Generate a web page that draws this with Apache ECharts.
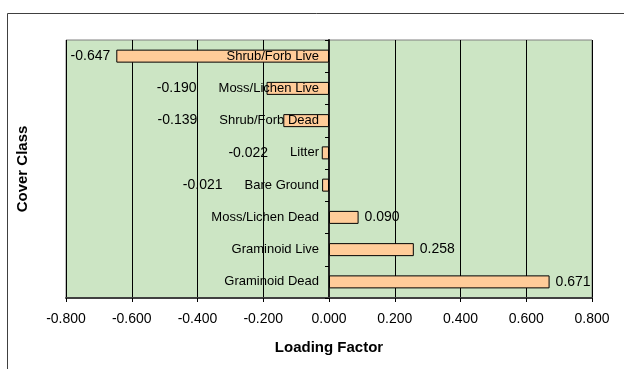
<!DOCTYPE html>
<html>
<head>
<meta charset="utf-8">
<script src="https://cdn.jsdelivr.net/npm/echarts@6/dist/echarts.min.js"></script>
<style>
html,body{margin:0;padding:0;background:#fff;}
#chart{width:624px;height:369px;}
</style>
</head>
<body>
<div id="chart"></div>
<script>
const categories = ["Shrub/Forb Live","Moss/Lichen Live","Shrub/Forb Dead","Litter","Bare Ground","Moss/Lichen Dead","Graminoid Live","Graminoid Dead"];
const values = [-0.647,-0.190,-0.139,-0.022,-0.021,0.090,0.258,0.671];
const xTicks = {min:-0.8, max:0.8, interval:0.2};

const FONT = "'Liberation Sans', Arial, sans-serif";
const NUM_SIZE = 14;
const CAT_SIZE = 13;
const CAT_MARGIN = 10;

const mctx = document.createElement('canvas').getContext('2d');
mctx.font = CAT_SIZE + "px 'Liberation Sans', Arial, sans-serif";
function textW(t){ return mctx.measureText(t).width; }

const chart = echarts.init(document.getElementById('chart'), null, {renderer:'canvas'});

const option = {
  animation:false,
  backgroundColor:'#ffffff',
  textStyle:{fontFamily:FONT},
  graphic:[{
    type:'rect', left:5, top:11, silent:true, z:-10,
    shape:{width:700, height:500},
    style:{fill:'none', stroke:'#404040', lineWidth:1}
  }],
  grid:{left:66, right:32, top:40, bottom:71, containLabel:false, outerBoundsMode:'none',
    show:true, backgroundColor:'#CCE5C4', borderColor:'#808080', borderWidth:1},
  xAxis:{
    type:'value', min:xTicks.min, max:xTicks.max, interval:xTicks.interval,
    name:'Loading Factor', nameLocation:'middle', nameGap:42, nameMoveOverlap:false,
    nameTextStyle:{fontFamily:FONT, fontSize:15, fontWeight:'bold', color:'#000'},
    axisLine:{show:true, onZero:false, lineStyle:{color:'#404040', width:2}},
    axisTick:{show:true, length:4, inside:false, lineStyle:{color:'#000'}},
    axisLabel:{fontFamily:FONT, fontSize:NUM_SIZE, color:'#000', margin:14,
      formatter:v=>v.toFixed(3)},
    splitLine:{show:true, lineStyle:{color:'#000', width:1}}
  },
  yAxis:[{
    type:'category', data:categories, inverse:true,
    axisLine:{show:true, onZero:true, lineStyle:{color:'#202020', width:2}},
    axisTick:{show:true, length:4, inside:false, alignWithLabel:false, lineStyle:{color:'#000'}},
    axisLabel:{show:false},
    splitLine:{show:false}
  },{
    type:'category', data:categories, inverse:true, position:'left',
    axisLine:{show:false, onZero:false}, axisTick:{show:false}, axisLabel:{show:false},
    splitLine:{show:false},
    name:'Cover Class', nameLocation:'middle', nameGap:36, nameRotate:90, nameMoveOverlap:false,
    nameTextStyle:{fontFamily:FONT, fontSize:15, fontWeight:'bold', color:'#000'}
  }],
  series:[{
    type:'bar', data:values, yAxisIndex:0, barWidth:13,
    itemStyle:{color:'#FFCC99', borderColor:'#000', borderWidth:1},
    label:{show:false}, z:2
  },{
    type:'custom', yAxisIndex:0, z:5,
    data: values.map((v,i)=>[v,i]),
    encode:{x:0, y:1},
    renderItem:function(params, api){
      const v = api.value(0), idx = api.value(1);
      const p = api.coord([v, idx]);
      const z0 = api.coord([0, idx]);
      const catRight = z0[0] - CAT_MARGIN;
      let x, align;
      if (v < 0){
        const catLeft = catRight - textW(categories[idx]);
        x = Math.min(p[0] - 6, catLeft - 22);
        align = 'right';
      } else {
        x = p[0] + 6; align = 'left';
      }
      return {type:'group', children:[
        {type:'text', x:catRight, y:p[1], style:{text:categories[idx], fill:'#000', font: CAT_SIZE + "px " + FONT, align:'right', verticalAlign:'middle'}},
        {type:'text', x:x, y:p[1], style:{text:v.toFixed(3), fill:'#000', font: NUM_SIZE + "px " + FONT, align:align, verticalAlign:'middle'}}
      ]};
    }
  }]
};
chart.setOption(option);
</script>
</body>
</html>
